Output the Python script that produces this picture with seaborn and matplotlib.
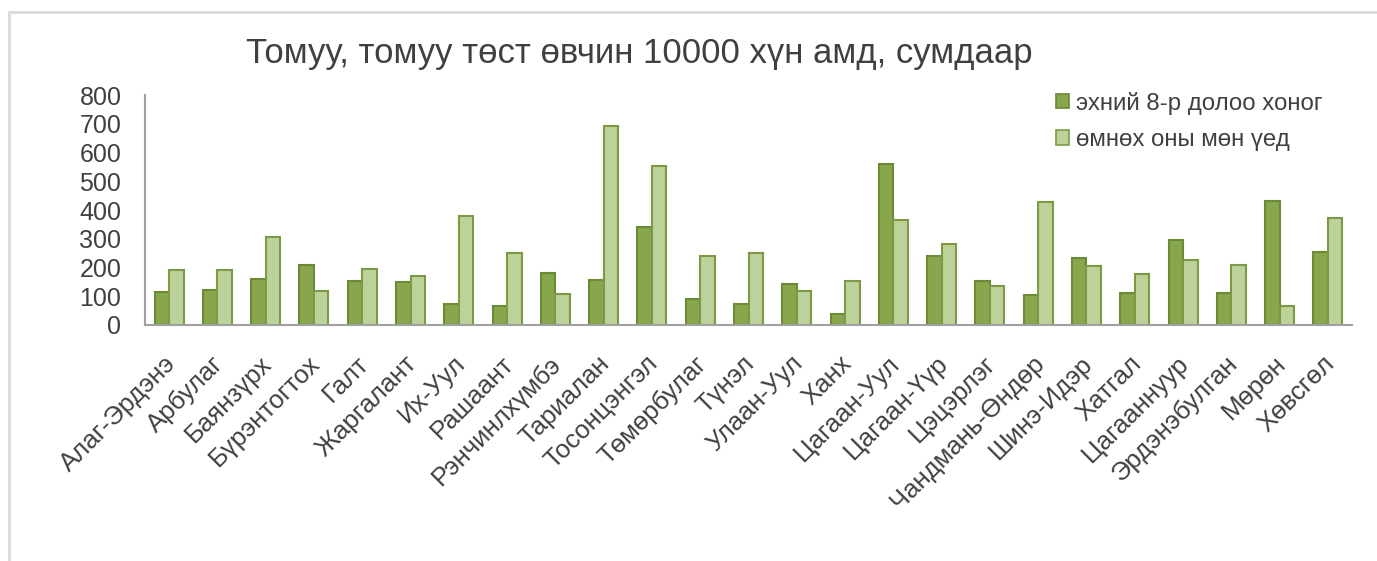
import matplotlib
matplotlib.use("Agg")
import matplotlib.pyplot as plt
import matplotlib.transforms as mtransforms
import seaborn as sns
import pandas as pd
from matplotlib.patches import Rectangle, Patch

categories = ["Алаг-Эрдэнэ", "Арбулаг", "Баянзүрх", "Бүрэнтогтох", "Галт", "Жаргалант",
              "Их-Уул", "Рашаант", "Рэнчинлхүмбэ", "Тариалан", "Тосонцэнгэл", "Төмөрбулаг",
              "Түнэл", "Улаан-Уул", "Ханх", "Цагаан-Уул", "Цагаан-Үүр", "Цэцэрлэг",
              "Чандмань-Өндөр", "Шинэ-Идэр", "Хатгал", "Цагааннуур", "Эрдэнэбулган",
              "Мөрөн", "Хөвсгөл"]
series_names = ["эхний 8-р долоо хоног", "өмнөх оны мөн үед"]
current = [116, 123, 161, 209, 154, 150, 73, 66, 182, 157, 342, 89,
           74, 143, 39, 561, 240, 154, 106, 234, 110, 295, 110, 431, 254]
previous = [190, 192, 307, 117, 194, 172, 380, 249, 109, 692, 552, 239,
            249, 119, 153, 366, 282, 137, 429, 204, 179, 227, 208, 67, 373]
title = "Томуу, томуу төст өвчин 10000 хүн амд, сумдаар"
yticks = [0, 100, 200, 300, 400, 500, 600, 700, 800]

df = pd.DataFrame({
    "cat": categories * 2,
    "val": current + previous,
    "series": [series_names[0]] * len(categories) + [series_names[1]] * len(categories),
})

sns.set_theme(style="white")
plt.rcParams["font.family"] = ["Liberation Sans", "DejaVu Sans"]
text_color = "#404040"

fig = plt.figure(figsize=(13.77, 5.61), dpi=100)
ax = fig.add_axes([145 / 1377, 1 - 325 / 561, (1352 - 145) / 1377, (325 - 95) / 561])

fills = ["#88A64C", "#BCD29A"]
edges = ["#6B8A35", "#7C9A45"]
sns.barplot(data=df, x="cat", y="val", hue="series", order=categories,
            hue_order=series_names, palette=fills, width=0.6, gap=0,
            saturation=1, ax=ax, legend=False)
n = len(categories)
for i, p in enumerate(ax.patches[:2 * n]):
    p.set_edgecolor(edges[i // n])
    p.set_linewidth(1.5)

ax.set_ylim(0, 800)
ax.set_xlim(-0.5, n - 0.5)
ax.set_yticks(yticks)
ax.set_yticklabels([str(v) for v in yticks], fontsize=18, color=text_color)
ax.set_xlabel("")
ax.set_ylabel("")
ax.set_xticks(range(n))
ax.set_xticklabels(categories, rotation=45, ha="right", rotation_mode="anchor",
                   fontsize=18.5, color=text_color)
ax.tick_params(axis="both", length=0)
ax.tick_params(axis="x", pad=19)
ax.tick_params(axis="y", pad=17)
for s in ["top", "right"]:
    ax.spines[s].set_visible(False)
for s in ["left", "bottom"]:
    ax.spines[s].set_color("#A0A0A0")
    ax.spines[s].set_linewidth(1.5)

handles = [Patch(facecolor=fills[i], edgecolor=edges[i], linewidth=1.2, label=series_names[i])
           for i in range(2)]
leg = fig.legend(handles=handles, loc="upper left", bbox_to_anchor=(1046 / 1377, 1 - 82 / 561),
                 frameon=False, fontsize=17.3, handlelength=0.55, handleheight=0.55,
                 handletextpad=0.3, labelspacing=0.6, borderaxespad=0)
for t in leg.get_texts():
    t.set_color(text_color)

fig.text(639 / 1377, 1 - 54 / 561, title, ha="center", va="center", fontsize=25,
         color=text_color)

fig.patches.append(Rectangle((9 / 1377, -0.1), 1.2, 1 - 11.5 / 561 + 0.1,
                             transform=fig.transFigure, fill=False,
                             edgecolor="#D9D9D9", linewidth=2, zorder=0))

fig.canvas.draw()
offset = mtransforms.ScaledTranslation(-6 / 100, 0, fig.dpi_scale_trans)
for tick in ax.xaxis.get_major_ticks():
    lab = tick.label1
    lab.set_transform(lab.get_transform() + offset)

fig.savefig("out.png", dpi=100)
